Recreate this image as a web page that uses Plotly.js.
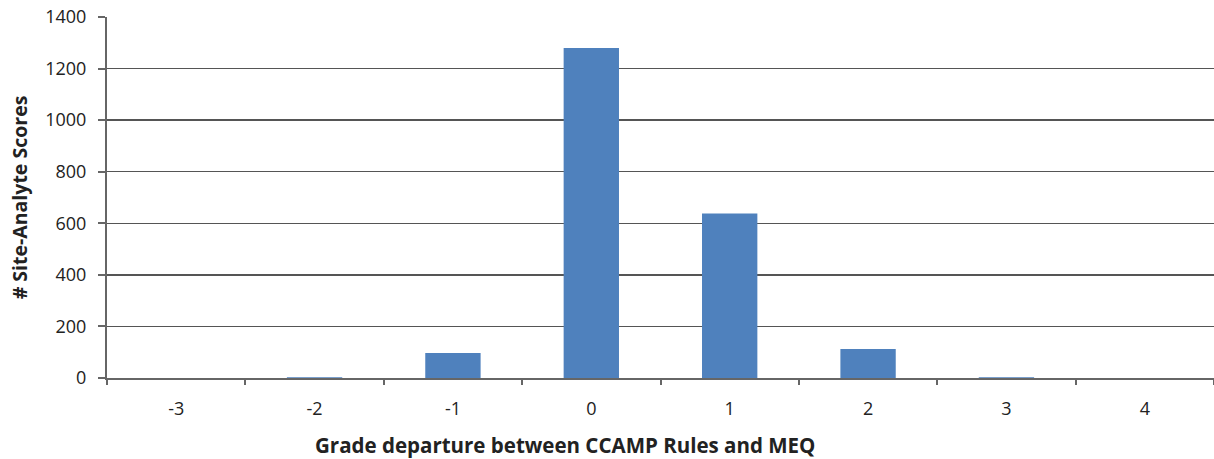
<!DOCTYPE html>
<html><head><meta charset="utf-8">
<script src="https://cdn.plot.ly/plotly-3.0.1.min.js"></script>
<style>html,body{margin:0;padding:0;background:#fff;}#chart{width:1214px;height:459px;}</style>
</head><body><div id="chart"></div>
<script>
const categories = ["-3","-2","-1","0","1","2","3","4"];
const scores = [0, 3, 97, 1280, 638, 112, 3, 0];
const yTicks = [0,200,400,600,800,1000,1200,1400];

const trace = {
  type: "bar",
  x: categories,
  y: scores,
  marker: {color: "#4f81bd", line: {width: 0}},
  hoverinfo: "x+y"
};
const layout = {
  width: 1214, height: 459,
  margin: {l: 107, r: 0, t: 17, b: 81},
  paper_bgcolor: "#fff", plot_bgcolor: "#fff",
  bargap: 0.6,
  showlegend: false,
  font: {family: "Open Sans, Liberation Sans, sans-serif", color: "#222", size: 18},
  xaxis: {
    type: "category",
    tickson: "boundaries",
    ticks: "outside", ticklen: 5, tickcolor: "#666", tickwidth: 2,
    showline: true, linecolor: "#666", linewidth: 2,
    showgrid: false,
    tickfont: {size: 18},
    ticklabelstandoff: 13
  },
  yaxis: {
    range: [0, 1400],
    tickvals: yTicks,
    ticks: "outside", ticklen: 7, tickcolor: "#666", tickwidth: 2,
    showline: true, linecolor: "#666", linewidth: 2,
    showgrid: true, gridcolor: "#555", gridwidth: 1.5,
    zeroline: false,
    tickfont: {size: 18},
    ticklabelstandoff: 8,
    title: {text: "# Site-Analyte Scores", font: {size: 19.5, weight: "bold"}, standoff: 12}
  },
  annotations: [{
    text: "<b>Grade departure between CCAMP Rules and MEQ</b>",
    xref: "paper", yref: "paper",
    x: (565-107)/1107, y: (378-445)/361,
    xanchor: "center", yanchor: "middle",
    showarrow: false,
    font: {size: 20.5}
  }]
};
Plotly.newPlot("chart", [trace], layout, {displayModeBar: false, staticPlot: true});
</script></body></html>
